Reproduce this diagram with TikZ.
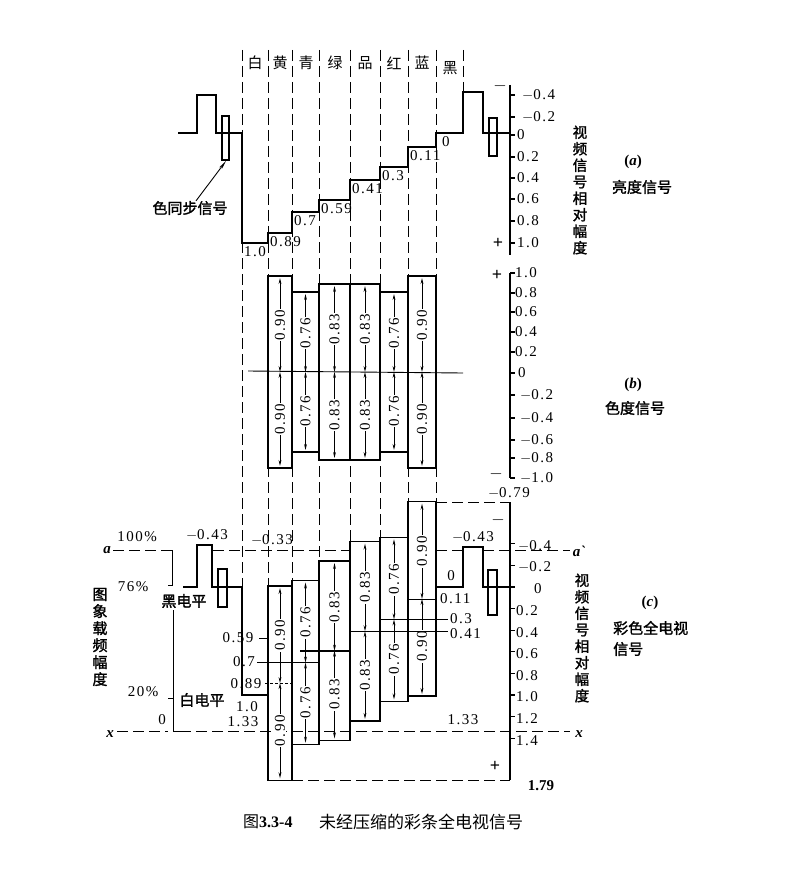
\documentclass[tikz,border=0pt]{standalone}
\usepackage{fontspec}
\setmainfont{Liberation Serif}
\newfontfamily\cjk{Noto Sans CJK SC}
\newfontfamily\cjkb{Noto Sans CJK SC}[FakeBold=1.6]
\newfontfamily\numf{Liberation Serif}[LetterSpace=10]
\usetikzlibrary{arrows.meta}
\tikzset{
  sig/.style={line width=1.5pt, line join=miter},
  bar/.style={line width=1.3pt},
  guide/.style={line width=1pt, dash pattern=on 11pt off 5pt},
  thin/.style={line width=0.9pt},
  num/.style={font=\numf\fontsize{15}{15}\selectfont, inner sep=1pt},
  hz/.style={font=\cjkb\fontsize{15}{16}\selectfont, inner sep=0pt},
  hzl/.style={font=\cjk\fontsize{15}{16}\selectfont, inner sep=0pt},
  vz/.style={font=\cjkb\fontsize{14.5}{16.5}\selectfont, align=center, inner sep=0pt},
  dim/.style={line width=0.9pt, {Stealth[length=6pt,width=2.8pt]}-{Stealth[length=6pt,width=2.8pt]}},
  dimlab/.style={num, rotate=90, fill=white, inner sep=1pt},
  tickmark/.style={line width=1.1pt},
  sign/.style={font=\bfseries\fontsize{18}{18}\selectfont, inner sep=0pt},
  partlab/.style={font=\bfseries\fontsize{15}{15}\selectfont, inner sep=0pt},
}
\begin{document}
\begin{tikzpicture}[x=1pt,y=-1pt]
\useasboundingbox[fill=white] (0,0) rectangle (800,877);

% ---------- band guides ----------
\foreach \gx/\gy [count=\i] in {242/587, 268/586, 292/580, 319/561, 350/541, 380/537, 408/502, 436/502, 463/92}
  \draw[guide] (\gx,50) -- (\gx,\gy);

\foreach \cx/\ch/\cy [count=\i] in {255/白/63, 280/黄/63, 306/青/63, 335/绿/63, 365/品/63, 394/红/63, 422/蓝/63, 450/黑/68}
  \node[hzl] (band\i) at (\cx,\cy) {\ch};

% ---------- (a) luminance ----------
\draw[sig] (178,133) -- (197,133) -- (197,95) -- (216,95) -- (216,133) -- (242,133)
  -- (242,243) -- (268,243) -- (268,233) -- (292,233) -- (292,212) -- (319,212)
  -- (319,200) -- (350,200) -- (350,180) -- (380,180) -- (380,167) -- (408,167)
  -- (408,147) -- (436,147) -- (436,133) -- (463,133) -- (463,92) -- (483,92)
  -- (483,133) -- (510,133);
\draw[bar] (222,116) rectangle (229,160);
\coordinate (burstA) at (226,161);
\draw[bar] (489,118) rectangle (497,156);

\foreach \sx/\sy/\sl [count=\i] in {242/243/1.0, 268/233/0.89, 292/212/0.7, 319/200/0.59, 350/180/0.41, 380/167/0.3, 408/147/0.11, 440/133/0}
  \node[num, anchor=north west] (st\i) at (\sx+1,\sy+2) {\sl};

\node[hz] (lblsync) at (190,208) {色同步信号};
\draw[thin, -{Stealth[length=9pt,width=3pt]}] ([xshift=6pt]lblsync.north) -- (burstA);

\draw[tickmark] (510,85) -- (510,255);
\foreach \ty/\tl/\tx [count=\i] in {95/$-$0.4/521, 117/$-$0.2/521, 135/0/516, 157/0.2/516, 178/0.4/516, 199/0.6/516, 221/0.8/516, 243/1.0/516}{
  \draw[tickmark] (510,\ty) -- (515,\ty);
  \node[num, anchor=west] (ta\i) at (\tx,\ty) {\tl};
}
\node[sign] (aminus) at (500,86) {$-$};
\node[sign] (aplus) at (498,243) {+};
\node[vz] (avert) at (580,190) {视\\频\\信\\号\\相\\对\\幅\\度};
\node[partlab] (alab) at (633,162) {(\textit{a})};
\node[hz] (aname) at (642,187) {亮度信号};

% ---------- (b) chrominance ----------
\draw[thin] (248,371) -- (463,373);
\foreach \xa/\xb/\amp/\lab [count=\i] in {268/292/96/0.90, 292/319/80/0.76, 319/350/88/0.83, 350/380/88/0.83, 380/408/80/0.76, 408/436/96/0.90}{
  \pgfmathsetmacro\xc{(\xa+\xb)/2}
  \draw[bar] (\xa,372-\amp) rectangle (\xb,372+\amp);
  \draw[dim] (\xc,372) -- (\xc,372-\amp+2) node[midway,dimlab] (bu\i) {\lab};
  \draw[dim] (\xc,372) -- (\xc,372+\amp-2) node[midway,dimlab] (bd\i) {\lab};
}
\draw[tickmark] (510,273) -- (510,478);
\foreach \ty/\tl/\tx [count=\i] in {273/1.0/514, 293/0.8/514, 312/0.6/514, 332/0.4/514, 352/0.2/514, 373/0/517, 395/$-$0.2/519, 418/$-$0.4/519, 440/$-$0.6/519, 458/$-$0.8/519, 478/$-$1.0/519}{
  \draw[tickmark] (510,\ty) -- (515,\ty);
  \node[num, anchor=west] (tb\i) at (\tx,\ty) {\tl};
}
\node[sign] (bplus) at (497,275) {+};
\node[sign] (bminus) at (496,474) {$-$};
\node[num] (m079) at (509,493) {$-$0.79};
\node[partlab] (blab) at (633,385) {(\textit{b})};
\node[hz] (bname) at (635,408) {色度信号};

% ---------- (c) composite ----------
% reference lines a and x
\draw[guide] (113,550) -- (168,550);
\draw[guide] (213,550) -- (350,550);
\draw[guide] (436,550) -- (463,550);
\draw[guide] (483,550) -- (570,550);
\node[font=\itshape\bfseries\fontsize{15}{15}\selectfont] (la) at (107,550) {a};
\node[font=\itshape\bfseries\fontsize{15}{15}\selectfont] (la2) at (579,551) {a\textasciigrave};
\draw[guide] (117,731) -- (168,731);
\draw[guide] (180,731) -- (570,731);
\node[font=\itshape\bfseries\fontsize{15}{15}\selectfont] (lx) at (110,734) {x};
\node[font=\itshape\bfseries\fontsize{15}{15}\selectfont] (lx2) at (579,734) {x};

% levels bracket
\draw[thin] (168,550) -- (172,550) -- (172,585) -- (168,585);
\draw[thin] (168,698) -- (173,698);
\draw[thin] (173,610) -- (173,731) -- (180,731);
\node[num] (p100) at (137,537) {100\%};
\node[num] (p76) at (133,587) {76\%};
\node[num] (p20) at (143,692) {20\%};
\node[num] (p0) at (162,720) {0};
\node[hz] (blk) at (184,601) {黑电平};
\node[hz] (wht) at (202,700) {白电平};
\node[vz, font=\cjkb\fontsize{15}{17}\selectfont] (lvert) at (100,637) {图\\象\\载\\频\\幅\\度};

% sync / burst
\draw[sig] (183,587) -- (197,587) -- (197,545) -- (212,545) -- (212,587) -- (242,587) -- (242,695) -- (268,695);
\draw[bar] (218,569) rectangle (227,607);
\draw[sig] (436,587) -- (463,587) -- (463,547) -- (483,547) -- (483,587) -- (510,587);
\draw[bar] (488,570) rectangle (497,615);

% chroma-on-luma bars
\foreach \xa/\xb/\lum/\chr/\lab [count=\i] in {268/292/0.89/0.90/0.90, 292/319/0.70/0.76/0.76, 319/350/0.59/0.83/0.83, 350/380/0.41/0.83/0.83, 380/408/0.30/0.76/0.76, 408/436/0.11/0.90/0.90}{
  \pgfmathsetmacro\yc{587+108*\lum}
  \pgfmathsetmacro\am{108*\chr}
  \pgfmathsetmacro\xc{(\xa+\xb)/2}
  \draw[bar] (\xa,\yc-\am) rectangle (\xb,\yc+\am);
  \draw[dim] (\xc,\yc) -- (\xc,\yc-\am+2) node[midway,dimlab] (cu\i) {\lab};
  \draw[dim] (\xc,\yc) -- (\xc,\yc+\am-2) node[midway,dimlab] (cd\i) {\lab};
}
% luminance levels inside bars and leaders
\draw[thin, dash pattern=on 3pt off 2pt] (265,683) -- (292,683);
\draw[thin] (257,662.6) -- (319,662.6);
\draw[line width=1.7pt] (300,650.7) -- (350,650.7);
\draw[thin] (259,638) -- (268,638);
\draw[thin] (350,631.3) -- (448,631.3);
\draw[thin] (380,619.4) -- (448,619.4);
\draw[thin] (408,599) -- (436,599);

\node[num] (c059) at (238,638) {0.59};
\node[num, anchor=east] (c07) at (256,662) {0.7};
\node[num] (c089) at (246,684) {0.89};
\node[num] (c10) at (247,707) {1.0};
\node[num] (c133a) at (243,722) {1.33};
\node[num, anchor=west] (c041) at (449,634) {0.41};
\node[num, anchor=west] (c03) at (449,619) {0.3};
\node[num, anchor=west] (c011) at (439,599) {0.11};
\node[num] (c0) at (451,576) {0};
\node[num] (c043r) at (473,537) {$-$0.43};
\node[num] (c043l) at (207,535) {$-$0.43};
\node[num] (c033) at (272,540) {$-$0.33};
\node[num] (c133b) at (463,720) {1.33};

% axis (c)
\draw[guide] (436,502) -- (510,502);
\draw[guide] (292,780.3) -- (510,780.3);
\draw[tickmark] (510,502) -- (510,780.3);
\foreach \tv/\tl/\tx [count=\i] in {-0.4/$-$0.4/517, -0.2/$-$0.2/517, 0/0/533, 0.2/0.2/515, 0.4/0.4/515, 0.6/0.6/515, 0.8/0.8/515, 1.0/1.0/515, 1.2/1.2/515, 1.4/1.4/515}{
  \pgfmathsetmacro\ty{587+108*\tv}
  \draw[tickmark] (510,\ty) -- (515,\ty);
  \node[num, anchor=west] (tc\i) at (\tx,\ty+2) {\tl};
}
\node[sign] (cminus) at (498,520) {$-$};
\node[sign] (cplus) at (495,766) {+};
\node[font=\bfseries\fontsize{15}{15}\selectfont] (c179) at (541,786) {1.79};
\node[vz] (cvert) at (582,638) {视\\频\\信\\号\\相\\对\\幅\\度};
\node[partlab] (clab) at (650,603) {(\textit{c})};
\node[hz, anchor=west] (cname1) at (613,628) {彩色全电视};
\node[hz, anchor=west] (cname2) at (613,649) {信号};

% caption
\node[anchor=west, inner sep=0pt] (capnum) at (243,822) {{\cjk\fontsize{16}{16}\selectfont 图}{\bfseries\fontsize{16}{16}\selectfont 3.3-4}};
\node[anchor=west, inner sep=0pt, font=\cjk\fontsize{17}{17}\selectfont] (captxt) at (319,822) {未经压缩的彩条全电视信号};
\end{tikzpicture}
\end{document}
